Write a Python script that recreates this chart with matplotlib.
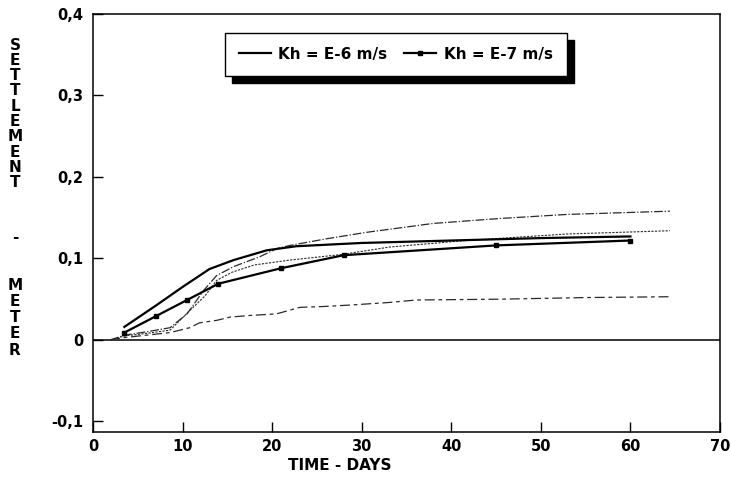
import matplotlib
matplotlib.use("Agg")
import matplotlib.pyplot as plt
from matplotlib.patches import Rectangle

# ---- data ----
t_e6 = [3.5, 7, 10, 13, 15.7, 19.4, 22.7, 30, 40, 50, 60]
s_e6 = [0.016, 0.042, 0.065, 0.087, 0.098, 0.110, 0.115, 0.119, 0.122, 0.125, 0.127]

t_e7 = [3.5, 7, 10.5, 14, 21, 28, 45, 60]
s_e7 = [0.009, 0.029, 0.049, 0.069, 0.088, 0.104, 0.116, 0.122]

t_meas_a = [1.9, 3.6, 6, 8.6, 10.5, 12.3, 13.8, 15.7, 18.6, 20.5, 22, 26, 30.5, 38, 45.4, 52.9, 64.4]
s_meas_a = [0.0, 0.006, 0.010, 0.015, 0.032, 0.060, 0.079, 0.090, 0.102, 0.112, 0.116, 0.124, 0.132, 0.143, 0.149, 0.154, 0.158]

t_meas_b = [1.9, 3.6, 6, 8.6, 10.8, 12.5, 13.8, 15.5, 18, 22, 27.9, 33.1, 41.7, 52.9, 64.4]
s_meas_b = [0.0, 0.005, 0.008, 0.012, 0.036, 0.054, 0.073, 0.083, 0.092, 0.098, 0.105, 0.114, 0.122, 0.130, 0.134]

t_meas_c = [1.9, 3.6, 8.6, 10.8, 11.9, 13.8, 15.3, 17.5, 20.5, 23.1, 25.7, 29, 33.1, 36.1, 45.4, 55, 64.4]
s_meas_c = [0.0, 0.003, 0.009, 0.015, 0.021, 0.024, 0.028, 0.030, 0.032, 0.040, 0.041, 0.043, 0.046, 0.049, 0.050, 0.052, 0.053]

x_ticks = [0, 10, 20, 30, 40, 50, 60, 70]
y_ticks = [-0.1, 0, 0.1, 0.2, 0.3, 0.4]
y_tick_labels = ["-0,1", "0", "0,1", "0,2", "0,3", "0,4"]
legend_labels = ["Kh = E-6 m/s", "Kh = E-7 m/s"]
y_label_letters = list("SETTLEMENT") + ["-"] + list("METER")
x_label = "TIME - DAYS"

# ---- figure ----
W, H = 731, 483
fig = plt.figure(figsize=(W / 100, H / 100), dpi=100)
ax = fig.add_axes([93 / W, 1 - 432 / H, (720 - 93) / W, (432 - 14) / H])

font = "DejaVu Sans"
ax.axhline(0, color="black", lw=1.1, zorder=1)

mc = "#2a2a2a"
ax.plot(t_meas_a, s_meas_a, color=mc, lw=0.9, dashes=(7, 1.5, 1, 1.5))
ax.plot(t_meas_b, s_meas_b, color=mc, lw=0.8, dashes=(2, 1.2))
ax.plot(t_meas_c, s_meas_c, color=mc, lw=0.9, dashes=(8, 3, 3, 3))

l1, = ax.plot(t_e6, s_e6, color="black", lw=1.6, solid_joinstyle="round")
l2, = ax.plot(t_e7, s_e7, color="black", lw=1.6, marker="s", ms=3.5,
              solid_joinstyle="round")

ax.set_xlim(0, 70)
ax.set_ylim(-0.113, 0.4)
ax.set_xticks(x_ticks)
ax.set_yticks(y_ticks)
ax.set_yticklabels(y_tick_labels)
ax.tick_params(direction="in", length=7, width=1, labelsize=10.5, pad=5)
ax.tick_params(axis="y", pad=7)
for lab in ax.get_xticklabels() + ax.get_yticklabels():
    lab.set_fontweight("bold")
    lab.set_family(font)
for sp in ax.spines.values():
    sp.set_linewidth(1.1)

# x label
fig.text(340 / W, 1 - 466 / H, x_label, ha="center", va="center",
         fontsize=11, fontweight="bold", family=font)

# stacked y label
ypos = [45 + i * 15.3 for i in range(10)] + [238] + [285 + i * 16.3 for i in range(5)]
for ch, yp in zip(y_label_letters, ypos):
    fig.text(15 / W, 1 - yp / H, ch, ha="center", va="center",
             fontsize=11, fontweight="bold", family=font)

# legend
leg = ax.legend([l1, l2], legend_labels, ncol=2, loc="upper left",
                bbox_to_anchor=(225 / W, 1 - 33 / H), bbox_transform=fig.transFigure,
                prop={"family": font, "weight": "bold", "size": 11},
                frameon=True, fancybox=False, framealpha=1, edgecolor="black",
                handlelength=2.1, handletextpad=0.5, columnspacing=1.1,
                borderpad=0.9, borderaxespad=0)
leg.get_frame().set_linewidth(1.0)
leg.set_zorder(5)

fig.canvas.draw()
bb = leg.get_window_extent()
off = 7
shadow = Rectangle((bb.x0 + off, bb.y0 - off), bb.width, bb.height,
                   transform=None, facecolor="black", edgecolor="black",
                   zorder=4, clip_on=False)
ax.add_artist(shadow)

fig.savefig("out.png", dpi=100)
